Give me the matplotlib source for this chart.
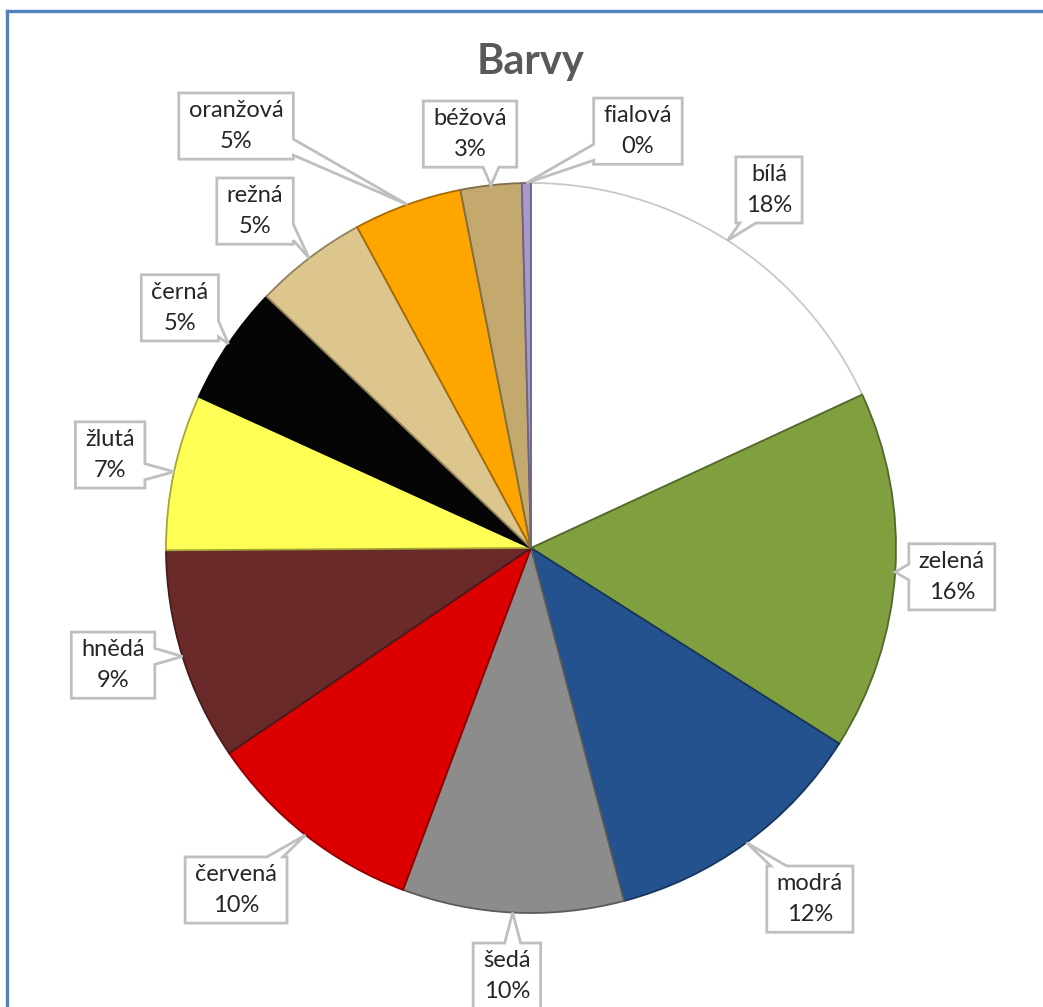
import matplotlib
matplotlib.use("Agg")
import matplotlib.pyplot as plt
from matplotlib.patches import Polygon
from matplotlib.lines import Line2D
import numpy as np

# ---- data ----
categories = ["bílá", "zelená", "modrá", "šedá", "červená", "hnědá",
              "žlutá", "černá", "režná", "oranžová", "béžová", "fialová"]
values = [18.1, 15.9, 11.9, 9.8, 9.8, 9.4, 6.9, 5.3, 5.0, 4.8, 2.7, 0.4]
title = "Barvy"

# ---- styles / layout ----
colors = ["#FFFFFF", "#80A040", "#24528E", "#8C8C8C", "#DC0000", "#6B2A2A",
          "#FFFF55", "#050505", "#DCC68E", "#FFA500", "#C4A96E", "#A898CC"]
# label box centres, in pie-radius units relative to the pie centre
label_pos = [(0.652, 0.981), (1.153, -0.079), (0.764, -0.962), (-0.066, -1.173),
             (-0.808, -0.937), (-1.145, -0.321), (-1.153, 0.255), (-0.962, 0.658),
             (-0.756, 0.923), (-0.808, 1.156), (-0.167, 1.134), (0.293, 1.142)]

W, H = 1043, 1007
CX, CY, R = 531, 548, 365  # pixel centre / radius of pie

plt.rcParams['font.family'] = ['Lato', 'DejaVu Sans']
fig = plt.figure(figsize=(W / 100, H / 100), dpi=100)
fig.patch.set_facecolor("white")
ax = fig.add_axes([0, 0, 1, 1])


def darker(c, f=0.35):
    rgb = np.array(matplotlib.colors.to_rgb(c))
    return tuple(rgb * (1 - f))


edges = [darker(c) if c != "#FFFFFF" else "#C8C8C8" for c in colors]
wedges, _ = ax.pie(values, colors=colors, startangle=90, counterclock=False,
                   radius=1, center=(0, 0), normalize=True,
                   wedgeprops=dict(linewidth=1.3))
for w, e in zip(wedges, edges):
    w.set_edgecolor(e)
    w.set_zorder(2)

ax.set_xlim(-CX / R, (W - CX) / R)
ax.set_ylim((CY - H) / R, CY / R)
ax.set_aspect("equal")
ax.axis("off")

total = sum(values)
cum = np.cumsum([0] + values[:-1])
renderer = fig.canvas.get_renderer()
inv = ax.transData.inverted()

padx, pady = 10 / R, 7 / R
bw = 8 / R  # half width of tail base

for i, (name, v) in enumerate(zip(categories, values)):
    pct = int(round(v / total * 100))
    lx, ly = label_pos[i]
    t = ax.text(lx, ly, f"{name}\n{pct}%", ha="center", va="center",
                fontsize=17, color="#262626", linespacing=1.6, zorder=6)
    bb = t.get_window_extent(renderer)
    (x0, y0), (x1, y1) = inv.transform([(bb.x0, bb.y0), (bb.x1, bb.y1)])
    x0 -= padx; x1 += padx; y0 -= pady; y1 += pady
    ang = np.deg2rad(90 - 360 * (cum[i] + v / 2) / total)
    tx, ty = np.cos(ang), np.sin(ang)
    dxo = max(x0 - tx, tx - x1, 0)
    dyo = max(y0 - ty, ty - y1, 0)
    m = bw + 4 / R
    if dyo >= dxo:
        b = np.clip(tx, x0 + m, x1 - m)
        if ty < y0:  # bottom
            pts = [(x0, y0), (b - bw, y0), (tx, ty), (b + bw, y0), (x1, y0), (x1, y1), (x0, y1)]
        else:  # top
            pts = [(x0, y0), (x1, y0), (x1, y1), (b + bw, y1), (tx, ty), (b - bw, y1), (x0, y1)]
    else:
        b = np.clip(ty, y0 + m, y1 - m)
        if tx > x1:  # right
            pts = [(x0, y0), (x1, y0), (x1, b - bw), (tx, ty), (x1, b + bw), (x1, y1), (x0, y1)]
        else:  # left
            pts = [(x0, y0), (x1, y0), (x1, y1), (x0, y1), (x0, b + bw), (tx, ty), (x0, b - bw)]
    poly = Polygon(pts, closed=True, facecolor="white", edgecolor="#BFBFBF",
                   linewidth=2, joinstyle="miter", zorder=5)
    ax.add_patch(poly)

fig.text(CX / W, 1 - 62 / H, title, ha="center", va="center", fontsize=30,
         fontweight="bold", color="#595959")

# blue frame (top and left edges)
fig.add_artist(Line2D([7 / W, 1], [1 - 11 / H, 1 - 11 / H], color="#4F81BD", lw=2.4,
                      transform=fig.transFigure))
fig.add_artist(Line2D([7 / W, 7 / W], [0, 1 - 11 / H], color="#4F81BD", lw=2.4,
                      transform=fig.transFigure))

fig.savefig("out.png", dpi=100, facecolor="white")
